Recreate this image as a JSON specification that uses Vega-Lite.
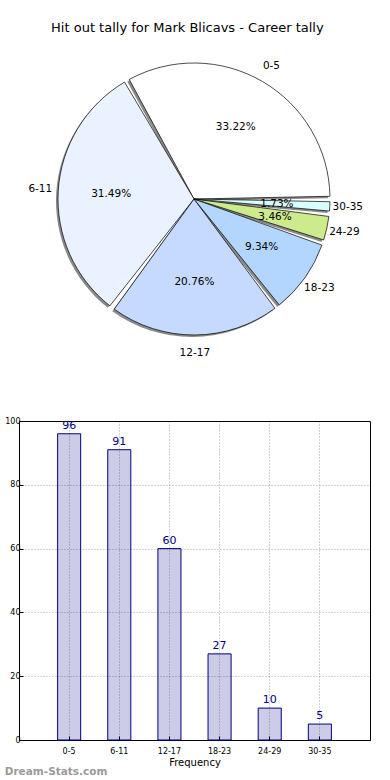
{
  "$schema": "https://vega.github.io/schema/vega-lite/v6.json",
  "padding": {"left": 4, "top": 22, "right": 0, "bottom": 0},
  "background": "white",
  "config": {
    "font": "DejaVu Sans",
    "view": {"stroke": null}
  },
  "title": {"text": "Hit out tally for Mark Blicavs - Career tally", "fontSize": 13, "fontWeight": "normal", "font": "DejaVu Sans", "anchor": "middle", "offset": 15, "color": "black"},
  "datasets": {
    "tally": [
      {"range": "0-5", "idx": 0, "count": 96, "pct": "33.22%"},
      {"range": "6-11", "idx": 1, "count": 91, "pct": "31.49%"},
      {"range": "12-17", "idx": 2, "count": 60, "pct": "20.76%"},
      {"range": "18-23", "idx": 3, "count": 27, "pct": "9.34%"},
      {"range": "24-29", "idx": 4, "count": 10, "pct": "3.46%"},
      {"range": "30-35", "idx": 5, "count": 5, "pct": "1.73%"}
    ]
  },
  "bounds": "flush",
  "spacing": 73,
  "vconcat": [
    {
      "width": 350,
      "height": 298,
      "data": {"name": "tally"},
      "encoding": {
        "theta": {"field": "count", "type": "quantitative", "stack": true, "scale": {"range": [1.5708, -4.7124]}},
        "order": {"field": "idx", "type": "quantitative"}
      },
      "layer": [
        {"mark": {"type": "arc", "outerRadius": 136, "padAngle": 0.04, "xOffset": -2, "yOffset": 2, "fill": "#8a8a8a", "stroke": null}},
        {"mark": {"type": "arc", "outerRadius": 136, "padAngle": 0.04, "stroke": "black", "strokeWidth": 0.7},
          "encoding": {"color": {"field": "range", "type": "nominal", "sort": ["0-5", "6-11", "12-17", "18-23", "24-29", "30-35"], "scale": {"domain": ["0-5", "6-11", "12-17", "18-23", "24-29", "30-35"], "range": ["#ffffff", "#eaf1ff", "#c6d9ff", "#b3d6ff", "#cdea8c", "#d8ffff"]}, "legend": null}}},
        {"mark": {"type": "text", "radius": 83, "fontSize": 10.5, "color": "black"}, "encoding": {"text": {"field": "pct"}}},
        {"mark": {"type": "text", "radius": 154, "fontSize": 10.5, "color": "black"}, "encoding": {"text": {"field": "range"}}}
      ]
    },
    {
      "width": 351,
      "height": 319,
      "data": {"name": "tally"},
      "view": {"stroke": "black", "strokeWidth": 1},
      "title": {"text": "Dream-Stats.com", "orient": "bottom", "anchor": "start", "frame": "bounds", "fontSize": 10.5, "fontWeight": "bold", "color": "#9a9a9a", "offset": 0, "font": "DejaVu Sans"},
      "encoding": {
        "x": {"field": "range", "type": "nominal", "sort": ["0-5", "6-11", "12-17", "18-23", "24-29", "30-35"],
          "scale": {"paddingInner": 0.54, "paddingOuter": 0.77},
          "axis": {"title": "Frequency", "titleFontSize": 10, "titleFontWeight": "normal", "titleColor": "black", "titlePadding": 2, "labelAngle": 0, "labelFontSize": 8, "labelColor": "black", "labelPadding": 11, "tickSize": -4, "tickColor": "black", "bandPosition": 0.5, "grid": true, "gridColor": "#000000", "gridOpacity": 0.35, "gridDash": [1, 2], "domainColor": "black"}},
        "y": {"field": "count", "type": "quantitative", "scale": {"domain": [0, 100], "nice": false},
          "axis": {"title": null, "values": [0, 20, 40, 60, 80, 100], "labelFontSize": 8, "labelColor": "black", "labelPadding": 3, "tickSize": -4, "tickColor": "black", "grid": true, "gridColor": "#000000", "gridOpacity": 0.35, "gridDash": [1, 2], "domainColor": "black"}}
      },
      "layer": [
        {"mark": {"type": "bar", "fill": "#000080", "fillOpacity": 0.2, "stroke": "#000080", "strokeWidth": 1}},
        {"mark": {"type": "text", "baseline": "bottom", "dy": -3, "fontSize": 11, "color": "#000080"}, "encoding": {"text": {"field": "count", "type": "quantitative"}}}
      ]
    }
  ]
}
